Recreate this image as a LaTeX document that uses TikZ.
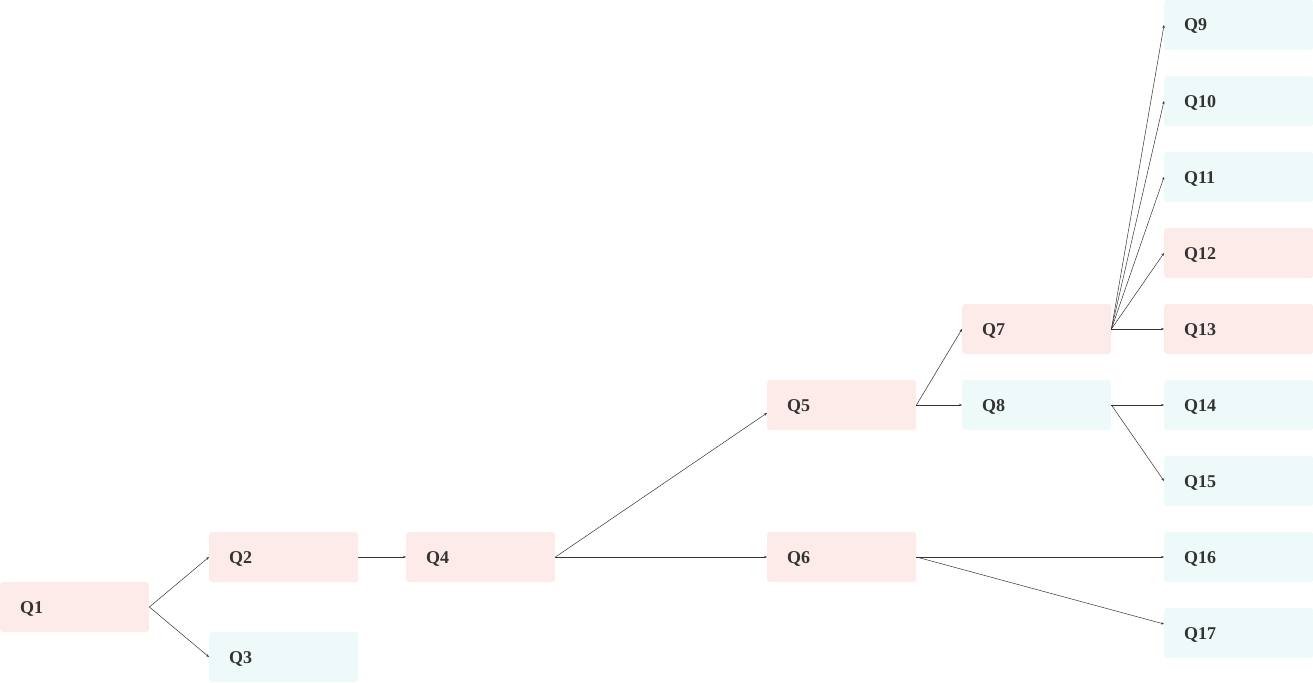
\documentclass[tikz,border=0pt]{standalone}
\usepackage{fontspec}
\setmainfont{Liberation Serif}
\usetikzlibrary{arrows.meta}
\definecolor{pinkbox}{HTML}{FDEBEA}
\definecolor{cyanbox}{HTML}{EEF9F9}
\definecolor{txt}{HTML}{333333}
\definecolor{edgec}{HTML}{333333}
\begin{document}
\begin{tikzpicture}[x=1pt,y=-1pt,
  qbox/.style={rectangle, rounded corners=3pt, anchor=west, minimum height=50pt,
    text width=109pt, inner xsep=20pt, inner ysep=0pt, align=left,
    text height=12pt, text depth=0pt,
    font=\fontsize{18}{20}\selectfont\bfseries, text=txt},
  pinkq/.style={qbox, fill=pinkbox},
  cyanq/.style={qbox, fill=cyanbox},
  link/.style={draw=edgec, line width=0.5pt, -{Stealth[length=3pt,width=2.4pt]}}
]
\useasboundingbox (0,0) rectangle (1313,682);
\node[pinkq] (Q1) at (0,607) {Q1};
\node[pinkq] (Q2) at (209,557) {Q2};
\node[cyanq] (Q3) at (209,657) {Q3};
\node[pinkq] (Q4) at (406,557) {Q4};
\node[pinkq] (Q5) at (767,405) {Q5};
\node[pinkq] (Q6) at (767,557) {Q6};
\node[pinkq] (Q7) at (962,329) {Q7};
\node[cyanq] (Q8) at (962,405) {Q8};
\node[cyanq] (Q9) at (1164,25) {Q9};
\node[cyanq] (Q10) at (1164,101) {Q10};
\node[cyanq] (Q11) at (1164,177) {Q11};
\node[pinkq] (Q12) at (1164,253) {Q12};
\node[pinkq] (Q13) at (1164,329) {Q13};
\node[cyanq] (Q14) at (1164,405) {Q14};
\node[cyanq] (Q15) at (1164,481) {Q15};
\node[cyanq] (Q16) at (1164,557) {Q16};
\node[cyanq] (Q17) at (1164,633) {Q17};

\draw[link] (Q1.east) -- (Q2.west);
\draw[link] (Q1.east) -- (Q3.west);
\draw[link] (Q2.east) -- (Q4.west);
\draw[link] (Q4.east) -- ([yshift=-8pt]Q5.west);
\draw[link] (Q4.east) -- (Q6.west);
\draw[link] (Q5.east) -- (Q7.west);
\draw[link] (Q5.east) -- (Q8.west);
\draw[link] (Q7.east) -- (Q9.west);
\draw[link] (Q7.east) -- (Q10.west);
\draw[link] (Q7.east) -- (Q11.west);
\draw[link] (Q7.east) -- (Q12.west);
\draw[link] (Q7.east) -- (Q13.west);
\draw[link] (Q8.east) -- (Q14.west);
\draw[link] (Q8.east) -- (Q15.west);
\draw[link] (Q6.east) -- (Q16.west);
\draw[link] (Q6.east) -- ([yshift=9pt]Q17.west);
\end{tikzpicture}
\end{document}
